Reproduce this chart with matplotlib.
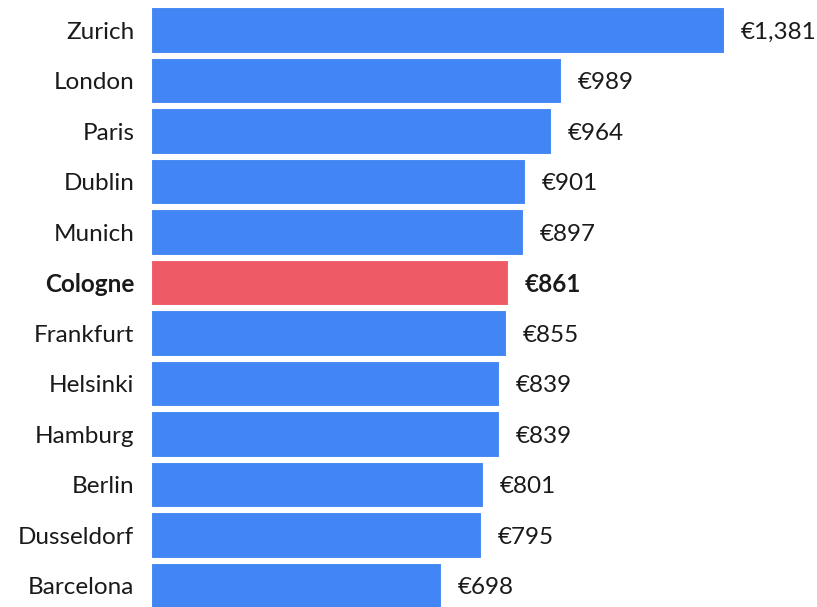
import matplotlib.pyplot as plt

cities = ['Zurich', 'London', 'Paris', 'Dublin', 'Munich', 'Cologne',
          'Frankfurt', 'Helsinki', 'Hamburg', 'Berlin', 'Dusseldorf', 'Barcelona']
costs = [1381, 989, 964, 901, 897, 861, 855, 839, 839, 801, 795, 698]
highlight = 'Cologne'

blue = '#4285f4'
red = '#ee5a66'
text_color = '#1a1a1a'

plt.rcParams['font.family'] = ['Lato', 'DejaVu Sans']

fig = plt.figure(figsize=(8.17, 6.07), dpi=100)
ax = fig.add_axes([151 / 817, 0, 666 / 817, 1])

colors = [red if c == highlight else blue for c in cities]
ypos = list(range(len(cities)))
ax.barh(ypos, costs, height=0.91, color=colors, edgecolor='white', linewidth=0.8)

ax.set_xlim(0, 1605)
ax.set_ylim(11.426, -0.594)
ax.axis('off')

for y, city, cost in zip(ypos, cities, costs):
    weight = 'bold' if city == highlight else 'normal'
    ax.annotate(city, xy=(0, y), xytext=(-12, -1.5), textcoords='offset points',
                ha='right', va='center', fontsize=17.5, color=text_color,
                fontweight=weight)
    ax.annotate(f'€{cost:,}', xy=(cost, y), xytext=(12, -1.5), textcoords='offset points',
                ha='left', va='center', fontsize=17.5, color=text_color,
                fontweight=weight)

fig.savefig('out.png', dpi=100)
